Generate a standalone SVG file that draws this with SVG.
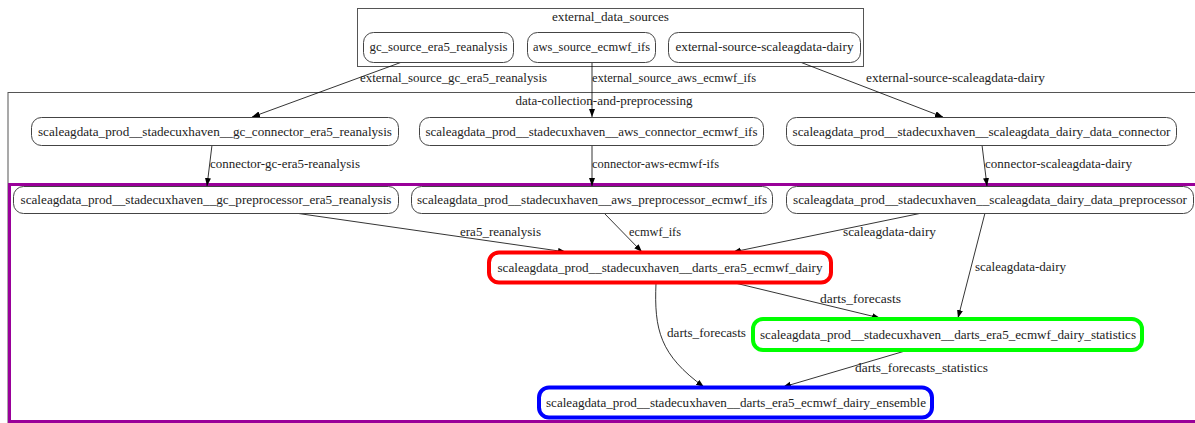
<svg xmlns="http://www.w3.org/2000/svg" width="1195" height="423" viewBox="0 0 1195 423">
<defs>
<marker id="arr" markerWidth="9" markerHeight="7" refX="8" refY="3" orient="auto" markerUnits="userSpaceOnUse">
<path d="M0,0 L8,3 L0,6 z" fill="#000"/>
</marker>
<style>
text{font-family:"Liberation Serif","Times New Roman",serif;font-size:12.5px;fill:#222}
.t{text-anchor:middle}
.cl{fill:none;stroke:#555;stroke-width:1}
.n{fill:#fff;stroke:#444;stroke-width:1}
.e{fill:none;stroke:#000;stroke-width:0.8;marker-end:url(#arr)}
</style>
</defs>
<rect x="0" y="0" width="1195" height="423" fill="#fff"/>
<g id="cluster_external">
<rect class="cl" x="357.5" y="8.5" width="506" height="58"/>
<text class="t" x="610.5" y="21" textLength="117" lengthAdjust="spacingAndGlyphs">external_data_sources</text>
</g>
<g id="cluster_dcp">
<rect class="cl" x="8" y="92.5" width="1200" height="340"/>
<text class="t" x="604" y="105" textLength="177" lengthAdjust="spacingAndGlyphs">data-collection-and-preprocessing</text>
</g>
<g id="cluster_purple">
<rect x="9.5" y="184.5" width="1200" height="237" fill="none" stroke="#990099" stroke-width="3"/>
</g>
<g id="connectors">
<path class="e" d="M402,62 L252,117"/>
<path class="e" d="M592,62 L592,117"/>
<path class="e" d="M800,62 L943,117"/>
<path class="e" d="M212,145 L207,186"/>
<path class="e" d="M592,145 L592,186"/>
<path class="e" d="M982,145 L987,186"/>
<path class="e" d="M295,213 L566,252"/>
<path class="e" d="M604,213 L642,252"/>
<path class="e" d="M922,213 L733,252"/>
<path class="e" d="M985,213 L958,318"/>
<path class="e" d="M735,283 L880,318"/>
<path class="e" d="M656,283 C654,330 660,355 704,387"/>
<path class="e" d="M905,351 L783,387"/>
<text x="360" y="82" textLength="187" lengthAdjust="spacingAndGlyphs">external_source_gc_era5_reanalysis</text>
<text x="592" y="82" textLength="164" lengthAdjust="spacingAndGlyphs">external_source_aws_ecmwf_ifs</text>
<text x="866" y="82" textLength="179" lengthAdjust="spacingAndGlyphs">external-source-scaleagdata-dairy</text>
<text x="210" y="168" textLength="150" lengthAdjust="spacingAndGlyphs">connector-gc-era5-reanalysis</text>
<text x="592" y="168" textLength="127" lengthAdjust="spacingAndGlyphs">connector-aws-ecmwf-ifs</text>
<text x="985" y="168" textLength="147" lengthAdjust="spacingAndGlyphs">connector-scaleagdata-dairy</text>
<text x="460" y="236" textLength="81" lengthAdjust="spacingAndGlyphs">era5_reanalysis</text>
<text x="629" y="236" textLength="52" lengthAdjust="spacingAndGlyphs">ecmwf_ifs</text>
<text x="843" y="236" textLength="93" lengthAdjust="spacingAndGlyphs">scaleagdata-dairy</text>
<text x="975" y="271" textLength="91" lengthAdjust="spacingAndGlyphs">scaleagdata-dairy</text>
<text x="820" y="303" textLength="81" lengthAdjust="spacingAndGlyphs">darts_forecasts</text>
<text x="667" y="337" textLength="79" lengthAdjust="spacingAndGlyphs">darts_forecasts</text>
<text x="855" y="372" textLength="133" lengthAdjust="spacingAndGlyphs">darts_forecasts_statistics</text>
</g>
<g id="gc_source_era5_reanalysis">
<rect class="n" x="363.5" y="32.5" width="150" height="30" rx="10"/>
<text class="t" x="438.5" y="51" textLength="138" lengthAdjust="spacingAndGlyphs">gc_source_era5_reanalysis</text>
</g>
<g id="aws_source_ecmwf_ifs">
<rect class="n" x="527.5" y="32.5" width="128" height="30" rx="10"/>
<text class="t" x="591.5" y="51" textLength="117" lengthAdjust="spacingAndGlyphs">aws_source_ecmwf_ifs</text>
</g>
<g id="external_source_scaleagdata_dairy">
<rect class="n" x="668.5" y="32.5" width="192" height="30" rx="10"/>
<text class="t" x="764.5" y="51" textLength="178" lengthAdjust="spacingAndGlyphs">external-source-scaleagdata-dairy</text>
</g>
<g id="gc_connector">
<rect class="n" x="31.5" y="117.5" width="367" height="28" rx="10"/>
<text class="t" x="215" y="135.5" textLength="354" lengthAdjust="spacingAndGlyphs">scaleagdata_prod__stadecuxhaven__gc_connector_era5_reanalysis</text>
</g>
<g id="aws_connector">
<rect class="n" x="419.5" y="117.5" width="344" height="28" rx="10"/>
<text class="t" x="591.5" y="135.5" textLength="332" lengthAdjust="spacingAndGlyphs">scaleagdata_prod__stadecuxhaven__aws_connector_ecmwf_ifs</text>
</g>
<g id="scaleagdata_connector">
<rect class="n" x="786.5" y="117.5" width="390" height="28" rx="10"/>
<text class="t" x="981.5" y="135.5" textLength="378" lengthAdjust="spacingAndGlyphs">scaleagdata_prod__stadecuxhaven__scaleagdata_dairy_data_connector</text>
</g>
<g id="gc_preprocessor">
<rect class="n" x="13.5" y="186.5" width="385" height="27" rx="10"/>
<text class="t" x="206" y="204" textLength="371" lengthAdjust="spacingAndGlyphs">scaleagdata_prod__stadecuxhaven__gc_preprocessor_era5_reanalysis</text>
</g>
<g id="aws_preprocessor">
<rect class="n" x="411.5" y="186.5" width="361" height="27" rx="10"/>
<text class="t" x="592" y="204" textLength="350" lengthAdjust="spacingAndGlyphs">scaleagdata_prod__stadecuxhaven__aws_preprocessor_ecmwf_ifs</text>
</g>
<g id="scaleagdata_preprocessor">
<rect class="n" x="786.5" y="186.5" width="407" height="27" rx="10"/>
<text class="t" x="990" y="204" textLength="394" lengthAdjust="spacingAndGlyphs">scaleagdata_prod__stadecuxhaven__scaleagdata_dairy_data_preprocessor</text>
</g>
<g id="darts_era5_ecmwf_dairy">
<rect x="489" y="252.5" width="342" height="30" rx="10" fill="#fff" stroke="#ff0000" stroke-width="4"/>
<text class="t" x="660" y="272" textLength="325" lengthAdjust="spacingAndGlyphs">scaleagdata_prod__stadecuxhaven__darts_era5_ecmwf_dairy</text>
</g>
<g id="darts_era5_ecmwf_dairy_statistics">
<rect x="753" y="319" width="389" height="31" rx="10" fill="#fff" stroke="#00ff00" stroke-width="4"/>
<text class="t" x="948" y="339" textLength="376" lengthAdjust="spacingAndGlyphs">scaleagdata_prod__stadecuxhaven__darts_era5_ecmwf_dairy_statistics</text>
</g>
<g id="darts_era5_ecmwf_dairy_ensemble">
<rect x="539" y="387.5" width="393" height="30" rx="10" fill="#fff" stroke="#0000ff" stroke-width="4"/>
<text class="t" x="736" y="407" textLength="380" lengthAdjust="spacingAndGlyphs">scaleagdata_prod__stadecuxhaven__darts_era5_ecmwf_dairy_ensemble</text>
</g>
</svg>
